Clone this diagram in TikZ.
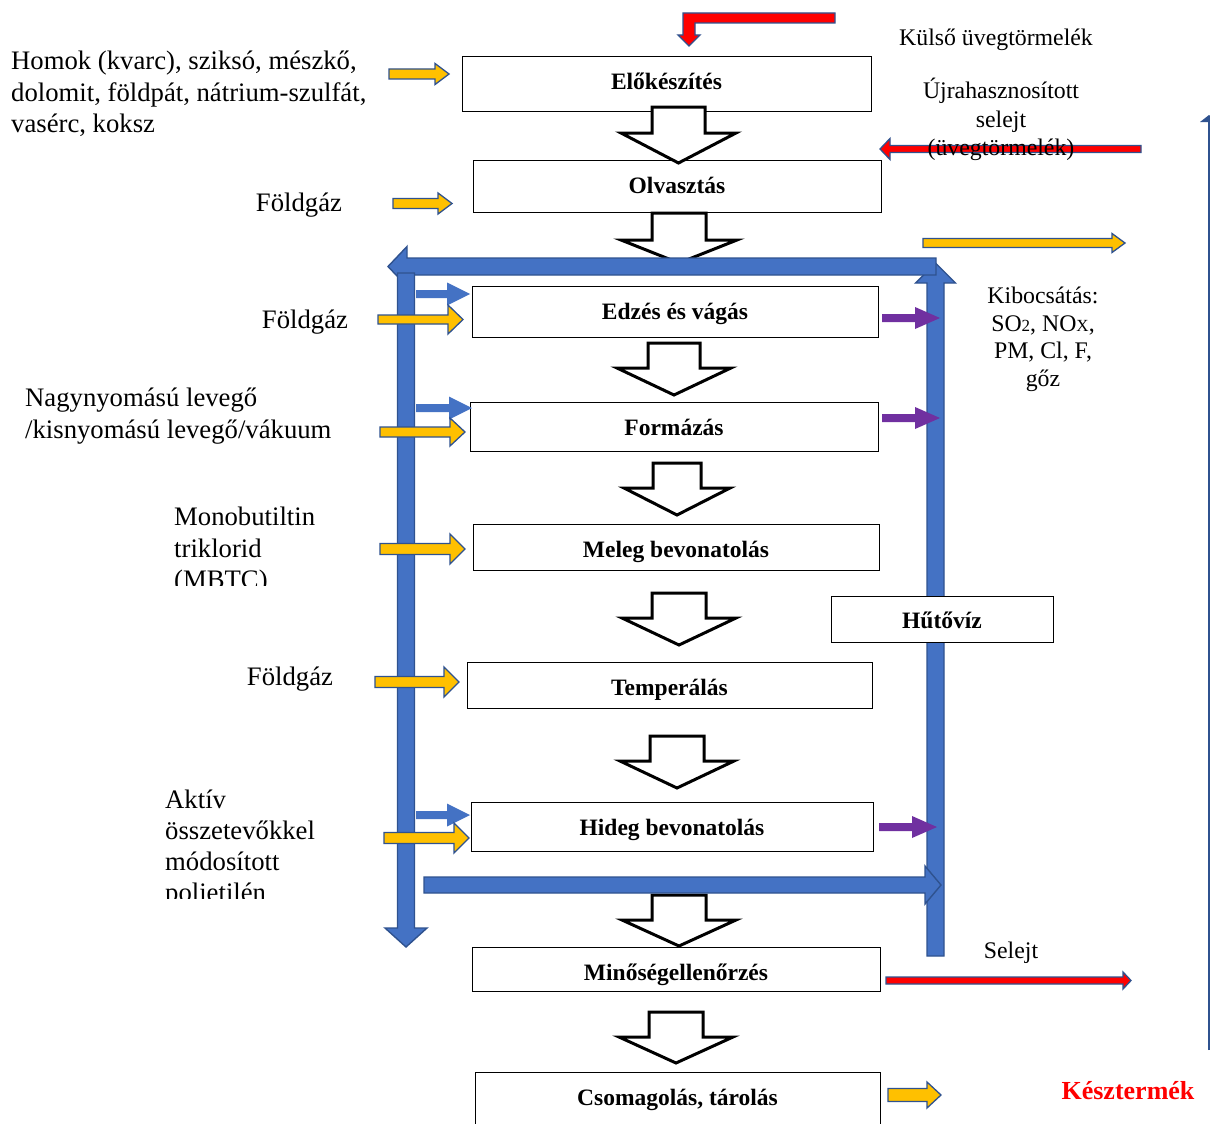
\documentclass[tikz,border=0pt]{standalone}
\usepackage{fontspec}
\setmainfont{Liberation Serif}
\definecolor{bluefill}{HTML}{4472C4}
\definecolor{blueedge}{HTML}{2F528F}
\definecolor{yel}{HTML}{FFC000}
\definecolor{purp}{HTML}{7030A0}
\newcommand\fontL{\fontsize{26.7}{31}\selectfont}
\newcommand\fontR{\fontsize{23.8}{28}\selectfont}
\newcommand\fontB{\fontsize{23.5}{27}\selectfont\bfseries}
\newcommand\smallsub[1]{{\fontsize{17}{17}\selectfont #1}}
% box label: baseline shift below centre, text
\newcommand\blbl[2]{\raisebox{-#1pt}[0pt][0pt]{#2}}
% horizontal block arrow: style, x0, y, xhead, xtip, shaft half, head half
\newcommand\harr[7]{\path[#1] (#2,{#3-#6}) -- (#4,{#3-#6}) -- (#4,{#3-#7}) -- (#5,#3) -- (#4,{#3+#7}) -- (#4,{#3+#6}) -- (#2,{#3+#6}) -- cycle;}
% vertical block arrow: style, x, y0, yhead, ytip, shaft half, head half
\newcommand\varr[7]{\path[#1] ({#2-#6},#3) -- ({#2-#6},#4) -- ({#2-#7},#4) -- (#2,#5) -- ({#2+#7},#4) -- ({#2+#6},#4) -- ({#2+#6},#3) -- cycle;}
\tikzset{
  stepbox/.style={draw=black, line width=0.9pt, fill=white, font=\fontB, inner sep=0pt},
  hollow/.style={draw=black, line width=3pt, fill=white, line join=miter},
  bluebar/.style={fill=bluefill, draw=blueedge, line width=1.4pt},
  bluesmall/.style={fill=bluefill},
  yelarr/.style={fill=yel, draw=blueedge, line width=1.3pt},
  purarr/.style={fill=purp},
  redarr/.style={fill=red, draw=blueedge, line width=1.3pt},
  lbl/.style={font=\fontL, inner sep=0pt, anchor=base west},
  lblc/.style={font=\fontL, inner sep=0pt, anchor=base},
  rlbl/.style={font=\fontR, inner sep=0pt, anchor=base},
}
\begin{document}
\begin{tikzpicture}[x=1pt,y=-1pt]
\useasboundingbox (0,0) rectangle (1210,1124);
\clip (0,0) rectangle (1210,1124);
\fill[white] (0,0) rectangle (1210,1124);

% process boxes
\node[stepbox, minimum width=409pt, minimum height=55pt] (b1) at (666.5,83.5) {\blbl{6}{Előkészítés}};
\node[stepbox, minimum width=408pt, minimum height=52pt] (b2) at (677,186) {\blbl{7}{Olvasztás}};
\node[stepbox, minimum width=406pt, minimum height=51pt] (b3) at (675,311.5) {\blbl{7.5}{Edzés és vágás}};
\node[stepbox, minimum width=408pt, minimum height=49pt] (b4) at (674,426.5) {\blbl{8.5}{Formázás}};
\node[stepbox, minimum width=406pt, minimum height=46pt] (b5) at (676,547) {\blbl{10}{Meleg bevonatolás}};
\node[stepbox, minimum width=405pt, minimum height=46pt] (b6) at (669.5,685) {\blbl{10}{Temperálás}};
\node[stepbox, minimum width=402pt, minimum height=49pt] (b7) at (672,826.5) {\blbl{8.5}{Hideg bevonatolás}};
\node[stepbox, minimum width=408pt, minimum height=44pt] (b8) at (676,969) {\blbl{11}{Minőségellenőrzés}};
\node[stepbox, minimum width=405pt, minimum height=56pt] (b9) at (677.5,1100) {\blbl{5}{Csomagolás, tárolás}};

% hollow block arrows
\varr{hollow}{678.5}{107}{133}{163}{26.5}{57.5}
\varr{hollow}{679}{213}{240}{263}{27}{58}
\varr{hollow}{674}{343}{368}{395}{26}{57}
\varr{hollow}{677}{463}{488}{515}{24}{53}
\varr{hollow}{679}{593}{618}{645}{27}{57}
\varr{hollow}{677}{736}{761}{788}{27}{57}
\varr{hollow}{679}{895}{920}{946}{27}{57}
\varr{hollow}{676}{1012}{1037}{1063}{27}{57}

% blue cooling-water loop
\varr{bluebar}{935.5}{956}{283}{263}{8.5}{20}
\harr{bluebar}{936}{266.5}{407}{388}{8.5}{20}
\varr{bluebar}{406}{273}{928}{947}{8.5}{21}
\harr{bluebar}{424}{885}{925}{941}{8}{19}

% small blue arrows
\harr{bluesmall}{416}{294}{447}{470}{4}{11.5}
\harr{bluesmall}{416}{408}{449}{472}{4}{11.5}
\harr{bluesmall}{416}{815}{447}{470}{4}{11.5}

% yellow input arrows
\harr{yelarr}{389}{74}{435}{449}{5}{10.5}
\harr{yelarr}{393}{203.5}{438}{452}{5}{10.5}
\harr{yelarr}{378}{319.5}{448}{463}{4.5}{14.5}
\harr{yelarr}{380}{432}{450}{465}{5}{14}
\harr{yelarr}{380}{549}{450}{465}{5.5}{15}
\harr{yelarr}{375}{682}{444}{459}{5.5}{15}
\harr{yelarr}{384}{838}{454}{469}{5.5}{15}
\harr{yelarr}{923}{243}{1112}{1125}{4.5}{9.5}
\harr{yelarr}{888}{1095}{927}{941}{6.5}{13}

% purple emission arrows
\harr{purarr}{882}{318}{915}{940}{4}{11}
\harr{purarr}{882}{418}{915}{940}{4}{11}
\harr{purarr}{879}{827}{912}{937}{4}{11}

% cooling water box
\node[stepbox, minimum width=222pt, minimum height=46pt] (hv) at (942,619) {\blbl{9}{Hűtővíz}};

% red arrows
\path[redarr] (835,13) -- (835,23) -- (695,23) -- (695,35) -- (700,35) -- (689,46) -- (678,35) -- (683,35) -- (683,13) -- cycle;
\harr{redarr}{1141}{149}{890}{880}{3.5}{10.5}
\harr{redarr}{886}{980.5}{1123}{1131}{3.5}{8.5}

% left texts
\node[lbl] (t1a) at (11,70) {Homok (kvarc), sziksó, mészkő,};
\node[lbl] (t1b) at (11,101) {dolomit, földpát, nátrium-szulfát,};
\node[lbl] (t1c) at (11,132) {vasérc, koksz};
\node[lblc] (t2) at (299,211) {Földgáz};
\node[lblc] (t3) at (305,328) {Földgáz};
\node[lbl] (t4a) at (25,406) {Nagynyomású levegő};
\node[lbl] (t4b) at (25,438) {/kisnyomású levegő/vákuum};
\begin{scope}
\clip (150,490) rectangle (370,585);
\node[lbl] (t5a) at (174,525) {Monobutiltin};
\node[lbl] (t5b) at (174,557) {triklorid};
\node[lbl] (t5c) at (174,588) {(MBTC)};
\end{scope}
\node[lblc] (t6) at (290,685) {Földgáz};
\begin{scope}
\clip (150,770) rectangle (370,898);
\node[lbl] (t7a) at (165,808) {Aktív};
\node[lbl] (t7b) at (165,839) {összetevőkkel};
\node[lbl] (t7c) at (165,870) {módosított};
\node[lbl] (t7d) at (165,901) {polietilén};
\end{scope}

% right texts
\node[rlbl] (r1) at (996,46) {Külső üvegtörmelék};
\node[rlbl] (r2a) at (1001,99) {Újrahasznosított};
\node[rlbl] (r2b) at (1001,127) {selejt};
\node[rlbl] (r2c) at (1001,155) {(üvegtörmelék)};
\node[rlbl] (r3a) at (1043,303) {Kibocsátás:};
\node[rlbl] (r3b) at (1043,331) {SO\smallsub{2}, NO\smallsub{X},};
\node[rlbl] (r3c) at (1043,358) {PM, Cl, F,};
\node[rlbl] (r3d) at (1043,386) {gőz};
\node[rlbl] (r4) at (1011,958) {Selejt};
\node[font=\fontsize{26}{30}\selectfont\bfseries, text=red, inner sep=0pt, anchor=base] (r5) at (1128,1099) {Késztermék};

% thin line at right edge
\coordinate (e1) at (1209,1050);
\coordinate (e2) at (1209,118);
\draw[blueedge, line width=1.6pt] (e1) -- (e2);
\fill[blueedge] (1200,122) -- (1209,115) -- (1218,122) -- cycle;
\end{tikzpicture}
\end{document}
